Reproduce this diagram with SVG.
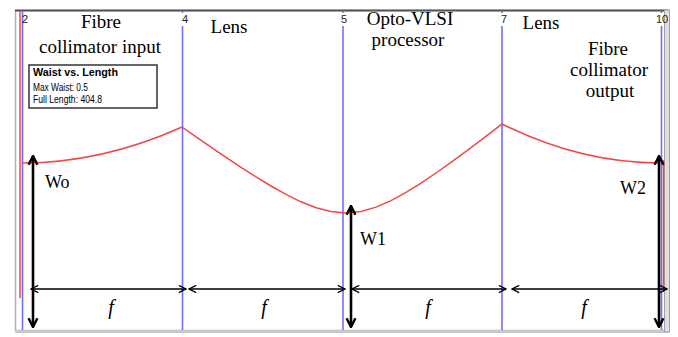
<svg xmlns="http://www.w3.org/2000/svg" width="678" height="337" viewBox="0 0 678 337">
<style>
.t{font-family:"Liberation Serif","Times New Roman",serif;font-size:19px;fill:#000;text-anchor:middle}
.f{font-family:"Liberation Serif","Times New Roman",serif;font-size:20px;font-style:italic;fill:#000;text-anchor:middle}
.w{font-family:"Liberation Serif","Times New Roman",serif;font-size:18px;fill:#000}
.n{font-family:"Liberation Sans",Arial,sans-serif;font-size:11px;fill:#222}
.lg{font-family:"Liberation Sans",Arial,sans-serif;font-size:10px;fill:#000}
.blue{stroke:#6f6fff;stroke-width:1.6;fill:none}
.red{stroke:#f04848;stroke-width:1.5;fill:none}
.h{stroke:#000;stroke-width:1.4;fill:none}
.v{stroke:#000;stroke-width:2.6;fill:none}
</style>
<defs>
<marker id="ah" viewBox="0 0 10 10" refX="9" refY="5" markerUnits="userSpaceOnUse" markerWidth="9" markerHeight="9" orient="auto-start-reverse">
<path d="M1,1 L9,5 L1,9" fill="none" stroke="#000" stroke-width="1.5"/>
</marker>
<marker id="ab" viewBox="0 0 10 10" refX="9" refY="5" markerUnits="userSpaceOnUse" markerWidth="11" markerHeight="12" orient="auto-start-reverse">
<path d="M1,1 L9,5 L1,9" fill="none" stroke="#000" stroke-width="2.2"/>
</marker>
</defs>
<rect width="678" height="337" fill="#fff"/>
<g id="frame">
<rect x="15.5" y="10.5" width="651" height="320" fill="#fff" stroke="#b0b0b0" stroke-width="1.5"/>
<line x1="15" y1="10.5" x2="668" y2="10.5" stroke="#555" stroke-width="2"/>
<line x1="15" y1="331.5" x2="668" y2="331.5" stroke="#c8c8c8" stroke-width="3"/>
<rect x="664.5" y="10" width="5" height="322" fill="#e0e0e0" stroke="#a0a0a0" stroke-width="1"/>
</g>
<g id="planes">
<line class="blue" x1="22.5" y1="11" x2="22.5" y2="330"/>
<line class="blue" x1="182.5" y1="11" x2="182.5" y2="13"/><line class="blue" x1="182.5" y1="26" x2="182.5" y2="330"/>
<line class="blue" x1="343" y1="11" x2="343" y2="13"/><line class="blue" x1="343" y1="26" x2="343" y2="330"/>
<line class="blue" x1="502" y1="11" x2="502" y2="13"/><line class="blue" x1="502" y1="26" x2="502" y2="330"/>
<line class="blue" x1="661.5" y1="11" x2="661.5" y2="13"/><line class="blue" x1="661.5" y1="26" x2="661.5" y2="330"/>
<text class="n" x="22" y="23">2</text>
<text class="n" x="182" y="23">4</text>
<text class="n" x="341" y="23">5</text>
<text class="n" x="501" y="23">7</text>
<text class="n" x="656" y="23">10</text>
</g>
<g id="beam">
<line class="red" x1="20" y1="11" x2="20" y2="298"/>
<line class="red" x1="663.5" y1="160" x2="663.5" y2="292"/>
<path class="red" d="M22,163 Q102,163 182,127 L196,136.8 L211,147.2 L226,157.4 L241,167.3 L256,176.9 L271,186 L286,194.4 L301,201.8 L316,207.7 L331,211.6 L346,213 L361,211.5 L376,207.1 L391,200.6 L406,192.4 L421,183.1 L436,173 L451,162.4 L466,151.4 L481,140.2 L496,128.7 L502,124 Q580,163 660,163"/>
</g>
<g id="legend">
<rect x="29" y="65" width="128" height="43" fill="#fff" stroke="#333" stroke-width="1.5"/>
<text class="lg" x="33" y="76" font-weight="bold" textLength="85" lengthAdjust="spacingAndGlyphs">Waist vs. Length</text>
<text class="lg" x="33" y="90.5" textLength="55" lengthAdjust="spacingAndGlyphs">Max Waist: 0.5</text>
<text class="lg" x="33" y="102.5" textLength="69" lengthAdjust="spacingAndGlyphs">Full Length: 404.8</text>
</g>
<g id="label-input">
<text class="t" x="101" y="28">Fibre</text>
<text class="t" x="100" y="53">collimator input</text>
</g>
<g id="label-lens1">
<text class="t" x="229" y="33">Lens</text>
</g>
<g id="label-vlsi">
<text class="t" x="410" y="25">Opto-VLSI</text>
<text class="t" x="408" y="46">processor</text>
</g>
<g id="label-lens2">
<text class="t" x="541" y="29">Lens</text>
</g>
<g id="label-output">
<text class="t" x="608" y="55">Fibre</text>
<text class="t" x="609" y="76">collimator</text>
<text class="t" x="610" y="97">output</text>
</g>
<g id="connectors">
<line class="v" x1="33" y1="156" x2="33" y2="327" marker-start="url(#ab)" marker-end="url(#ab)"/>
<line class="v" x1="351" y1="206" x2="351" y2="327" marker-start="url(#ab)" marker-end="url(#ab)"/>
<line class="v" x1="659" y1="156" x2="659" y2="327" marker-start="url(#ab)" marker-end="url(#ab)"/>
<line class="h" x1="31" y1="289" x2="186" y2="289" marker-start="url(#ah)" marker-end="url(#ah)"/>
<line class="h" x1="189" y1="289" x2="345" y2="289" marker-start="url(#ah)" marker-end="url(#ah)"/>
<line class="h" x1="352" y1="289" x2="506" y2="289" marker-start="url(#ah)" marker-end="url(#ah)"/>
<line class="h" x1="512" y1="289" x2="667" y2="289" marker-start="url(#ah)" marker-end="url(#ah)"/>
</g>
<g id="labels-w">
<text class="w" x="45" y="188">Wo</text>
<text class="w" x="360" y="245">W1</text>
<text class="w" x="620" y="194">W2</text>
</g>
<g id="labels-f">
<text class="f" x="111" y="314">f</text>
<text class="f" x="264" y="314">f</text>
<text class="f" x="428" y="314">f</text>
<text class="f" x="584" y="314">f</text>
</g>
</svg>
